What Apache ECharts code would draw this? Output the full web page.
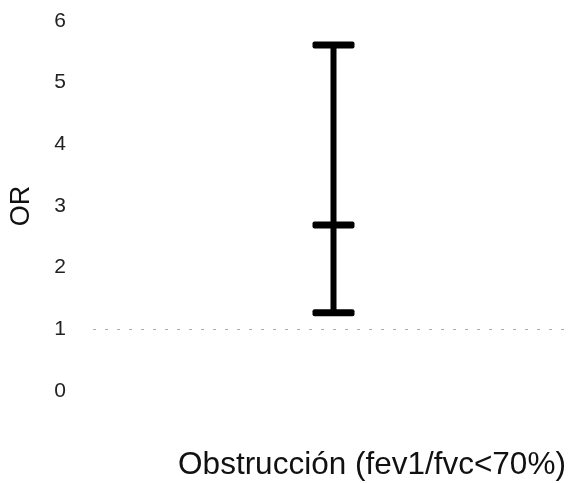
<!DOCTYPE html>
<html><head><meta charset="utf-8">
<script src="https://cdn.jsdelivr.net/npm/echarts@6/dist/echarts.min.js"></script>
<style>html,body{margin:0;padding:0;background:#fff}#c{width:572px;height:483px}</style>
</head><body><div id="c"></div>
<script>
const categories = ['Obstrucción'];
const lowerCI = [1.27];
const oddsRatio = [2.69];
const upperCI = [5.61];
const yTicks = [0, 1, 2, 3, 4, 5, 6];
const referenceLine = 1;
const xTitle = 'Obstrucción (fev1/fvc<70%)';
const yTitle = 'OR';

const chart = echarts.init(document.getElementById('c'));
const data = categories.map((c, i) => [i, lowerCI[i], oddsRatio[i], upperCI[i]]);
chart.setOption({
  animation: false,
  textStyle: { fontFamily: 'Liberation Sans, Arial, sans-serif' },
  grid: { left: 90, right: 0, top: 21, bottom: 92 },
  xAxis: {
    type: 'category', data: categories,
    axisLine: { show: false }, axisTick: { show: false }, axisLabel: { show: false },
    splitLine: { show: false }
  },
  yAxis: {
    type: 'value', min: yTicks[0], max: yTicks[yTicks.length - 1], interval: 1,
    axisLine: { show: false }, axisTick: { show: false }, splitLine: { show: false },
    axisLabel: { color: '#222', fontSize: 21, margin: 33, align: 'center', fontFamily: 'Liberation Sans' },
    name: yTitle, nameLocation: 'middle', nameGap: 58, nameRotate: 90,
    nameTextStyle: { color: '#111', fontSize: 27, fontFamily: 'Liberation Sans' }
  },
  graphic: [{
    type: 'text', x: 372, y: 465,
    style: { text: xTitle, fill: '#111', fontSize: 31.5, fontFamily: 'Liberation Sans', textAlign: 'center', textVerticalAlign: 'middle' }
  }],
  series: [{
    type: 'custom',
    data: data,
    renderItem: function (params, api) {
      const x = api.value(0);
      const pLow = api.coord([x, api.value(1)]);
      const pMid = api.coord([x, api.value(2)]);
      const pHigh = api.coord([x, api.value(3)]);
      const cx = pLow[0] + 1;
      const hw = 21, ch = 7;
      const st = { fill: '#000' };
      return {
        type: 'group',
        children: [
          { type: 'rect', shape: { x: cx - 3, y: pHigh[1], width: 6, height: pLow[1] - pHigh[1] }, style: st },
          { type: 'rect', shape: { x: cx - hw, y: pHigh[1] - ch / 2, width: hw * 2, height: ch, r: 2 }, style: st },
          { type: 'rect', shape: { x: cx - hw, y: pMid[1] - ch / 2, width: hw * 2, height: ch, r: 2 }, style: st },
          { type: 'rect', shape: { x: cx - hw, y: pLow[1] - ch / 2, width: hw * 2, height: ch, r: 2 }, style: st }
        ]
      };
    },
    markLine: {
      silent: true, symbol: 'none', label: { show: false },
      lineStyle: { color: '#aaa', type: [3, 9], width: 1 },
      data: [{ yAxis: referenceLine }]
    },
    z: 3
  }]
});
</script></body></html>
